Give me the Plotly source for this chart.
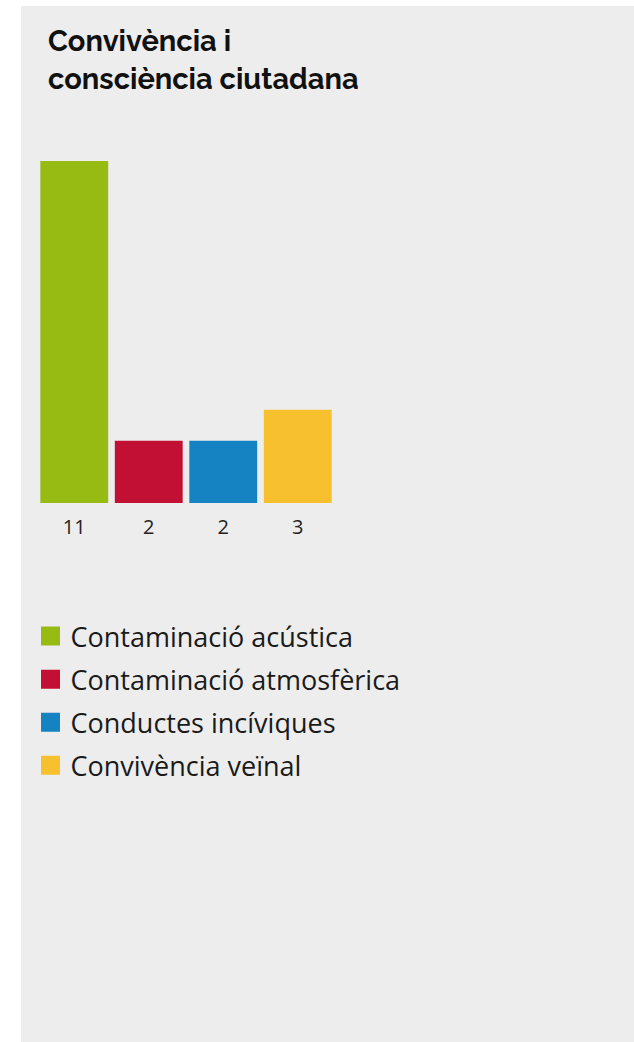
import plotly.graph_objects as go

categories = ["Contaminació acústica", "Contaminació atmosfèrica", "Conductes incíviques", "Convivència veïnal"]
values = [11, 2, 2, 3]
colors = ["#97bb12", "#c21034", "#1582c2", "#f7c02f"]
title_text = "Convivència i<br>consciència ciutadana"

W, H = 634, 1042
ML, MR, MT, MB = 37, 299, 161, 539
PW = W - ML - MR
PH = H - MT - MB

def px_x(px):
    return (px - ML) / PW

def px_y(py):
    return (H - MB - py) / PH

fig = go.Figure()
fig.add_trace(go.Bar(
    x=list(range(len(values))), y=values,
    marker=dict(color=colors, line=dict(width=0)),
    showlegend=False, hoverinfo="skip",
))
for name, col in zip(categories, colors):
    fig.add_trace(go.Scatter(
        x=[None], y=[None], mode="markers", name=name,
        marker=dict(symbol="square", size=16, color=col, line=dict(width=3, color=col)),
        legendgroup=name,
    ))

fig.update_layout(
    width=W, height=H,
    margin=dict(l=ML, r=MR, t=MT, b=MB, pad=0, autoexpand=False),
    paper_bgcolor="#ededed", plot_bgcolor="#ededed",
    bargap=0.089,
    xaxis=dict(range=[-0.5, len(values) - 0.5], tickvals=list(range(len(values))),
               ticktext=[str(v) for v in values], showgrid=False, zeroline=False,
               showline=False, ticks="", ticklabelstandoff=10,
               tickfont=dict(family="Open Sans", size=20, color="#222"),
               fixedrange=True, automargin=False),
    yaxis=dict(range=[0, 11], visible=False, fixedrange=True, automargin=False),
    title=dict(text=title_text, xref="container", yref="container",
               x=48 / W, xanchor="left", y=1 - 51 / H, yanchor="top",
               font=dict(family="Raleway, Montserrat, Open Sans", size=29, color="#111", weight="bold")),
    legend=dict(xref="container", yref="container", x=30.5 / W, xanchor="left",
                y=1 - 612 / H, yanchor="top", bgcolor="rgba(0,0,0,0)",
                font=dict(family="Open Sans", size=27, color="#1a1a1a"),
                tracegroupgap=5, itemclick=False, itemdoubleclick=False),
    shapes=[
        dict(type="rect", xref="paper", yref="paper", x0=px_x(-5), x1=px_x(21),
             y0=px_y(H + 5), y1=px_y(-5), fillcolor="white", line=dict(width=0), layer="below"),
        dict(type="rect", xref="paper", yref="paper", x0=px_x(-5), x1=px_x(W + 5),
             y0=px_y(6), y1=px_y(-5), fillcolor="white", line=dict(width=0), layer="below"),
    ],
)

fig.write_html("out.html", config={"displayModeBar": False},
               post_script="document.body.style.margin='0';")
